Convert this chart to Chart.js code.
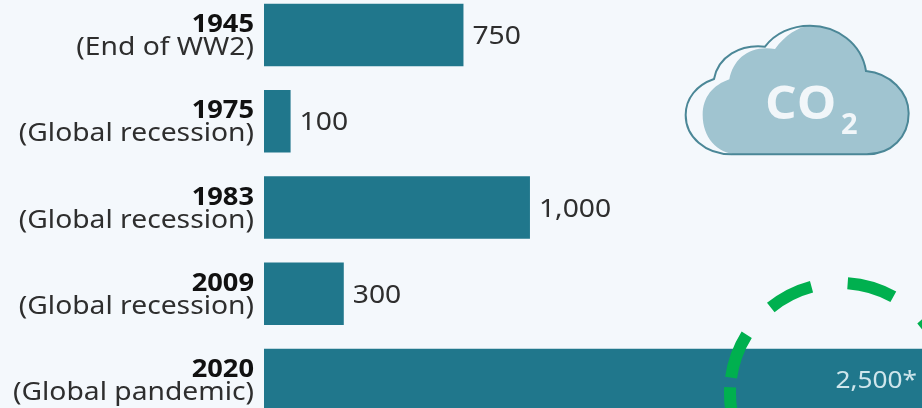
<!DOCTYPE html>
<html>
<head>
<meta charset="utf-8">
<title>CO2 emission drops</title>
<script src="https://cdn.jsdelivr.net/npm/chart.js@4"></script>
<style>
    html, body { margin: 0; height: 100%; overflow: hidden; background: #f4f8fc; }
    #co2-chart { position: absolute; left: 0; top: -20px; }
</style>
</head>
<body>
<canvas id="co2-chart" width="960" height="450"></canvas>
<script>
const years = ['1945', '1975', '1983', '2009', '2020'];
const events = ['(End of WW2)', '(Global recession)', '(Global recession)', '(Global recession)', '(Global pandemic)'];
const drops = [750, 100, 1000, 300, 2500];
const dropLabels = ['750', '100', '1,000', '300', '2,500*'];

const FONT = '"Noto Sans", sans-serif';

// Text with wider letterforms, anchored at x
function wideText(ctx, text, x, y, stretch) {
    ctx.save();
    ctx.translate(x, y);
    ctx.scale(stretch, 1);
    ctx.fillText(text, 0, 0);
    ctx.restore();
}

// Year and event text to the left of each bar
const rowLabels = {
    id: 'rowLabels',
    afterDraw(chart) {
        const ctx = chart.ctx;
        const y = chart.scales.y;
        ctx.save();
        ctx.textAlign = 'right';
        ctx.textBaseline = 'alphabetic';
        years.forEach((year, i) => {
            const mid = y.getPixelForValue(i);
            ctx.font = 'bold 25px ' + FONT;
            ctx.fillStyle = '#111111';
            wideText(ctx, year, 254, mid - 3, 1.09);
            ctx.font = '25px ' + FONT;
            ctx.fillStyle = '#2e2e2e';
            wideText(ctx, events[i], 254, mid + 20, 1.13);
        });
        ctx.restore();
    }
};

// Value next to the bar end, inside the bar for the last one
const valueLabels = {
    id: 'valueLabels',
    afterDraw(chart) {
        const ctx = chart.ctx;
        const bars = chart.getDatasetMeta(0).data;
        ctx.save();
        ctx.font = '25px ' + FONT;
        ctx.textBaseline = 'alphabetic';
        bars.forEach((bar, i) => {
            if (i === bars.length - 1) {
                ctx.textAlign = 'right';
                ctx.fillStyle = '#cfe6ec';
                ctx.font = '23px ' + FONT;
                wideText(ctx, dropLabels[i], 917, bar.y + 8, 1.14);
            } else {
                ctx.textAlign = 'left';
                ctx.fillStyle = '#2e2e2e';
                wideText(ctx, dropLabels[i], bar.x + 9, bar.y + 9, 1.13);
            }
        });
        ctx.restore();
    }
};

function cloudOutline(ctx) {
    ctx.beginPath();
    ctx.moveTo(215, 463);
    ctx.lineTo(620, 463);
    ctx.bezierCurveTo(695, 463, 746, 410, 746, 340);
    ctx.bezierCurveTo(746, 275, 690, 220, 618, 213);
    ctx.bezierCurveTo(605, 130, 530, 77, 450, 77);
    ctx.bezierCurveTo(395, 77, 345, 100, 315, 140);
    ctx.bezierCurveTo(240, 132, 175, 170, 162, 237);
    ctx.bezierCurveTo(110, 255, 77, 295, 77, 345);
    ctx.bezierCurveTo(77, 410, 135, 463, 215, 463);
    ctx.closePath();
}

function cloudFill(ctx) {
    ctx.beginPath();
    ctx.moveTo(235, 463);
    ctx.lineTo(620, 463);
    ctx.bezierCurveTo(695, 463, 746, 410, 746, 340);
    ctx.bezierCurveTo(746, 275, 690, 220, 618, 213);
    ctx.bezierCurveTo(605, 130, 530, 77, 450, 77);
    ctx.bezierCurveTo(415, 80, 375, 105, 345, 147);
    ctx.bezierCurveTo(270, 135, 220, 175, 208, 238);
    ctx.bezierCurveTo(160, 255, 128, 290, 128, 345);
    ctx.bezierCurveTo(128, 410, 170, 463, 235, 463);
    ctx.closePath();
}

// Cloud badge in the top right corner
const cloudBadge = {
    id: 'cloudBadge',
    afterDraw(chart) {
        const ctx = chart.ctx;
        ctx.save();
        ctx.translate(660, 20);
        ctx.save();
        ctx.scale(1 / 3, 1 / 3);
        cloudFill(ctx);
        ctx.fillStyle = '#a0c4d0';
        ctx.fill();
        cloudOutline(ctx);
        ctx.strokeStyle = '#4b8797';
        ctx.lineWidth = 6;
        ctx.stroke();
        ctx.restore();
        ctx.fillStyle = '#f1f6f9';
        ctx.textAlign = 'left';
        ctx.font = 'bold 47px "Open Sans", sans-serif';
        wideText(ctx, 'CO', 105, 119, 1.06);
        ctx.font = 'bold 29px "Open Sans", sans-serif';
        ctx.fillText('2', 181, 134);
        ctx.restore();
    }
};

// Dashed green ring around the 2020 figure, angles in degrees
const ringDashes = [[150, 183], [188, 212], [231, 255], [274, 299], [318, 342]];
const greenRing = {
    id: 'greenRing',
    afterDraw(chart) {
        const ctx = chart.ctx;
        ctx.save();
        ctx.strokeStyle = '#00b04f';
        ctx.lineWidth = 12;
        ringDashes.forEach(d => {
            ctx.beginPath();
            ctx.arc(840, 413, 110, d[0] * Math.PI / 180, d[1] * Math.PI / 180);
            ctx.stroke();
        });
        ctx.restore();
    }
};

new Chart(document.getElementById('co2-chart').getContext('2d'), {
    type: 'bar',
    data: {
        labels: years,
        datasets: [{
            data: drops,
            backgroundColor: '#20778c',
            borderWidth: 0,
            barPercentage: 0.725,
            categoryPercentage: 1
        }]
    },
    options: {
        indexAxis: 'y',
        responsive: false,
        animation: false,
        layout: { padding: { left: 264, right: 0, top: 12, bottom: 7 } },
        plugins: { legend: { display: false }, tooltip: { enabled: false } },
        scales: {
            x: { display: false, min: 0, max: 2617 },
            y: { display: false }
        }
    },
    plugins: [rowLabels, valueLabels, cloudBadge, greenRing]
});
</script>
</body>
</html>
